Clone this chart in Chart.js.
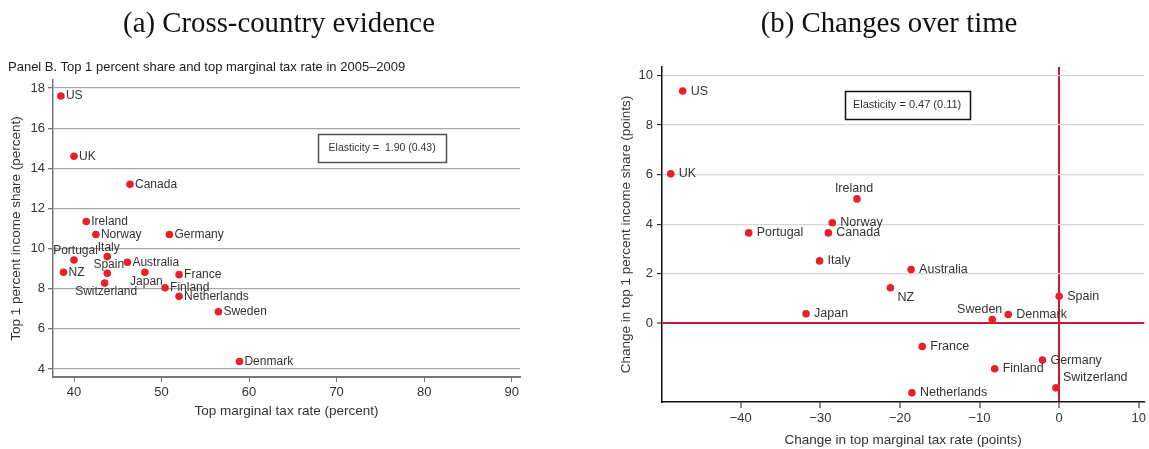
<!DOCTYPE html>
<html>
<head>
<meta charset="utf-8">
<script src="https://cdn.jsdelivr.net/npm/chart.js@4.4.1/dist/chart.umd.min.js"></script>
<style>
  body { margin: 0; background: #fff; }
  #wrap { position: relative; width: 1149px; height: 449px; overflow: hidden; }
  canvas { position: absolute; top: 0; }
  .title { position: absolute; top: 6px; line-height: 32px; font-family: 'Liberation Serif', 'Times New Roman', serif;
           font-size: 28.8px; color: #111; transform: translateX(-50%); white-space: nowrap; }
  #sub { position: absolute; left: 8px; top: 59px; line-height: 16px; font: 13px 'Liberation Sans', Arial, sans-serif; color: #222; }
</style>
</head>
<body>
<div id="wrap">
  <canvas id="left" width="575" height="449" style="left:0;width:575px;height:449px"></canvas>
  <canvas id="right" width="574" height="449" style="left:575px;width:574px;height:449px"></canvas>
  <div class="title" style="left:279px">(a) Cross-country evidence</div>
  <div class="title" style="left:889px">(b) Changes over time</div>
  <div id="sub">Panel B. Top 1 percent share and top marginal tax rate in 2005&ndash;2009</div>
</div>
<script>
// (a) top marginal tax rate vs top 1% share, 2005-2009
const leftCountries = ['US', 'UK', 'Canada', 'Ireland', 'Norway', 'Germany', 'Portugal', 'Italy', 'Spain',
  'Australia', 'NZ', 'Japan', 'France', 'Switzerland', 'Finland', 'Netherlands', 'Sweden', 'Denmark'];
const leftTaxRate = [38.5, 40.0, 46.4, 41.4, 42.5, 50.9, 40.0, 43.8, 43.8,
  46.1, 38.8, 48.1, 52.0, 43.5, 50.4, 52.0, 56.5, 58.9];
const leftTopShare = [17.6, 14.6, 13.2, 11.35, 10.7, 10.7, 9.43, 9.6, 8.77,
  9.32, 8.82, 8.82, 8.7, 8.28, 8.05, 7.62, 6.85, 4.37];
const leftXTicks = [40, 50, 60, 70, 80, 90];
const leftYTicks = [4, 6, 8, 10, 12, 14, 16, 18];

// (b) changes over time
const rightCountries = ['US', 'UK', 'Ireland', 'Norway', 'Portugal', 'Canada', 'Italy', 'Japan', 'NZ',
  'Australia', 'Spain', 'Sweden', 'Denmark', 'France', 'Germany', 'Finland', 'Switzerland', 'Netherlands'];
const rightTaxChange = [-47.3, -48.8, -25.4, -28.5, -39.0, -29.0, -30.1, -31.8, -21.2,
  -18.6, 0.0, -8.4, -6.4, -17.2, -2.1, -8.1, -0.4, -18.5];
const rightShareChange = [9.37, 6.03, 5.02, 4.06, 3.65, 3.65, 2.52, 0.39, 1.44,
  2.17, 1.09, 0.16, 0.36, -0.93, -1.48, -1.83, -2.6, -2.8];
const rightXTicks = [-40, -30, -20, -10, 0, 10];
const rightYTicks = [0, 2, 4, 6, 8, 10];

// label placement (clock positions, 3 = right of marker)
const leftLabelPos = { Portugal: 12, Italy: 12, Spain: 12, Japan: 6, Switzerland: 6 };
const rightLabelPos = { Ireland: 12, Sweden: 11, NZ: 4, Switzerland: 1 };

const RED = '#e8202a';
const LINE_RED = '#cc1836';
Chart.defaults.font.family = "'Liberation Sans', Arial, sans-serif";
Chart.defaults.color = '#333';

const pointLabels = {
  id: 'pointLabels',
  afterDatasetsDraw(chart, args, opts) {
    const ctx = chart.ctx;
    const meta = chart.getDatasetMeta(0);
    ctx.save();
    ctx.font = opts.font;
    ctx.fillStyle = '#333';
    ctx.textBaseline = 'middle';
    meta.data.forEach((pt, i) => {
      const name = chart.data.labels[i];
      const pos = opts.positions[name] || 3;
      let x = pt.x, y = pt.y;
      if (pos === 3) { ctx.textAlign = 'left'; x += opts.gap; }
      else if (pos === 12) { ctx.textAlign = 'center'; x += opts.cdx; y -= opts.vgap; }
      else if (pos === 6) { ctx.textAlign = 'center'; x += opts.cdx; y += opts.vgap; }
      else if (pos === 11) { ctx.textAlign = 'right'; x += 10; y -= opts.vgap; }
      else if (pos === 1) { ctx.textAlign = 'left'; x += 7; y -= opts.vgap; }
      else if (pos === 4) { ctx.textAlign = 'left'; x += 7; y += opts.vgap; }
      ctx.fillText(name, x, y);
    });
    ctx.restore();
  }
};

// boxed "Elasticity" note, anchored in data units
const noteBox = {
  id: 'noteBox',
  afterDraw(chart, args, opts) {
    const ctx = chart.ctx;
    const cx = chart.scales.x.getPixelForValue(opts.x);
    const cy = chart.scales.y.getPixelForValue(opts.y);
    ctx.save();
    ctx.strokeStyle = opts.border;
    ctx.lineWidth = 1.5;
    ctx.strokeRect(Math.round(cx - opts.w / 2) + 0.5, Math.round(cy - opts.h / 2) + 0.5, opts.w, opts.h);
    ctx.fillStyle = '#333';
    ctx.textBaseline = 'middle';
    ctx.textAlign = 'center';
    ctx.font = opts.font;
    ctx.fillText(opts.text, cx, cy);
    ctx.restore();
  }
};

const fixTicks = list => scale => { scale.ticks = list.map(v => ({ value: v })); };
const minusFmt = v => v < 0 ? '\u2212' + Math.abs(v) : String(v);

new Chart(document.getElementById('left'), {
  type: 'scatter',
  data: {
    labels: leftCountries,
    datasets: [{
      data: leftTaxRate.map((x, i) => ({ x: x, y: leftTopShare[i] })),
      backgroundColor: RED, borderWidth: 0, pointRadius: 3.8
    }]
  },
  options: {
    responsive: false, animation: false,
    layout: { padding: { top: 80, right: 55, bottom: 0, left: 0 } },
    plugins: {
      legend: { display: false }, tooltip: { enabled: false },
      pointLabels: { positions: leftLabelPos, font: "12px 'Liberation Sans', Arial, sans-serif", gap: 5, vgap: 9, cdx: 1.5 },
      noteBox: { x: 75.2, y: 15.0, w: 128, h: 28, border: '#555',
        text: 'Elasticity =  1.90 (0.43)', font: "10.5px 'Liberation Sans', Arial, sans-serif" }
    },
    scales: {
      x: {
        min: 37.6, max: 90.95,
        afterBuildTicks: fixTicks(leftXTicks),
        afterFit(s) { s.height = 72; },
        ticks: { font: { size: 13 }, color: '#333', padding: 3 },
        grid: { drawOnChartArea: false, tickLength: 5, tickColor: '#777', tickWidth: 1 },
        border: { color: '#777', width: 2 },
        title: { display: true, text: 'Top marginal tax rate (percent)', font: { size: 13.5 }, color: '#333', padding: { top: 0, bottom: 30 } }
      },
      y: {
        min: 3.6, max: 18.4,
        afterBuildTicks: fixTicks(leftYTicks),
        afterFit(s) { s.width = 53; },
        ticks: { font: { size: 13 }, color: '#333', padding: 3 },
        grid: { color: '#a8a8a8', lineWidth: 1.3, tickLength: 5, tickColor: '#777' },
        border: { color: '#777', width: 1.5 },
        title: { display: true, text: 'Top 1 percent income share (percent)', font: { size: 13.5 }, color: '#333', padding: { top: 8, bottom: 0 } }
      }
    }
  },
  plugins: [pointLabels, noteBox]
});

new Chart(document.getElementById('right'), {
  type: 'scatter',
  data: {
    labels: rightCountries,
    datasets: [{
      data: rightTaxChange.map((x, i) => ({ x: x, y: rightShareChange[i] })),
      backgroundColor: RED, borderWidth: 0, pointRadius: 3.8
    }]
  },
  options: {
    responsive: false, animation: false,
    layout: { padding: { top: 67, right: 3, bottom: 0, left: 0 } },
    plugins: {
      legend: { display: false }, tooltip: { enabled: false },
      pointLabels: { positions: rightLabelPos, font: "12.5px 'Liberation Sans', Arial, sans-serif", gap: 8, vgap: 10, cdx: -3 },
      noteBox: { x: -19.1, y: 8.8, w: 125, h: 28, border: '#111',
        text: 'Elasticity = 0.47 (0.11)', font: "11px 'Liberation Sans', Arial, sans-serif" }
    },
    scales: {
      x: {
        min: -49.9, max: 10.7,
        afterBuildTicks: fixTicks(rightXTicks),
        afterFit(s) { s.height = 47; },
        ticks: { font: { size: 13 }, color: '#333', padding: 3, callback: minusFmt },
        grid: {
          color: c => (c.tick && c.tick.value === 0) ? LINE_RED : 'rgba(0,0,0,0)',
          lineWidth: 2, tickLength: 6, tickColor: '#111', tickWidth: 1
        },
        border: { color: '#111', width: 1.5 },
        title: { display: true, text: 'Change in top marginal tax rate (points)', font: { size: 13.5 }, color: '#333', padding: { top: 0, bottom: 1 } }
      },
      y: {
        min: -3.17, max: 10.34,
        afterBuildTicks: fixTicks(rightYTicks),
        afterFit(s) { s.width = 87; },
        ticks: { font: { size: 13 }, color: '#333', padding: 4 },
        grid: {
          color: c => (c.tick && c.tick.value === 0) ? LINE_RED : '#d6d6d6',
          lineWidth: c => (c.tick && c.tick.value === 0) ? 2 : 1.3,
          tickLength: 5, tickColor: '#111', tickWidth: 1
        },
        border: { color: '#111', width: 1.5 },
        title: { display: true, text: 'Change in top 1 percent income share (points)', font: { size: 13.5 }, color: '#333', padding: { top: 43, bottom: 0 } }
      }
    }
  },
  plugins: [pointLabels, noteBox]
});
</script>
</body>
</html>
